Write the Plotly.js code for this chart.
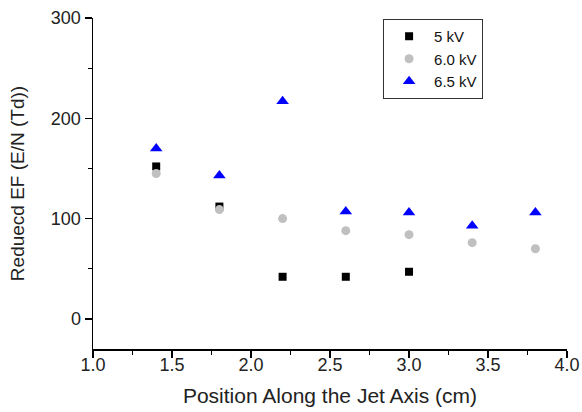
<!DOCTYPE html>
<html><head><meta charset="utf-8">
<script src="https://cdn.plot.ly/plotly-3.0.1.min.js"></script>
<style>html,body{margin:0;padding:0;background:#fff}#chart{width:582px;height:412px}</style>
</head><body><div id="chart"></div>
<script>
var positions = [1.4, 1.8, 2.2, 2.6, 3.0, 3.4, 3.8];
var x5kV = [1.4, 1.8, 2.2, 2.6, 3.0];
var ef5kV = [152, 112, 42, 42, 47];
var ef60kV = [145, 109, 100, 88, 84, 76, 70];
var ef65kV = [170, 143, 217, 107, 106, 93, 106];
var seriesNames = ['5 kV', '6.0 kV', '6.5 kV'];

var font = 'Liberation Sans, Arial, sans-serif';
var traces = [
  {x: x5kV, y: ef5kV, name: seriesNames[0], type: 'scatter', mode: 'markers',
   marker: {symbol: 'square', size: 8, color: '#000000'}},
  {x: positions, y: ef60kV, name: seriesNames[1], type: 'scatter', mode: 'markers',
   marker: {symbol: 'circle', size: 9, color: '#c0c0c0'}},
  {x: positions, y: ef65kV, name: seriesNames[2], type: 'scatter', mode: 'markers',
   marker: {symbol: 'triangle-up', size: 11, color: '#0000ff'}}
];
var pad = '\u00a0'.repeat(12);
var layout = {
  width: 582, height: 412,
  margin: {l: 93, r: 15, t: 18, b: 63},
  paper_bgcolor: '#fff', plot_bgcolor: '#fff',
  font: {family: font, size: 18, color: '#222'},
  showlegend: true,
  legend: {x: 0.612, y: 0.997, xanchor: 'left', yanchor: 'top',
    bordercolor: '#333', borderwidth: 1, bgcolor: '#fff', itemwidth: 40,
    font: {family: font, size: 15, color: '#111'}, tracegroupgap: 0},
  xaxis: {range: [1, 4], dtick: 0.5, tick0: 1, tickformat: '.1f',
    showgrid: false, zeroline: false, showline: true, linecolor: '#000', linewidth: 1.5,
    ticks: 'outside', ticklen: 7, tickcolor: '#000', tickwidth: 1.5, ticklabelstandoff: -8,
    minor: {dtick: 0.25, ticks: 'outside', ticklen: 4, tickcolor: '#000', tickwidth: 1},
    tickfont: {family: font, size: 18, color: '#222'},
    title: {text: 'Position Along the Jet Axis (cm)', font: {family: font, size: 21, color: '#222'}, standoff: 14}},
  yaxis: {range: [-30, 300], dtick: 100, tick0: 0,
    showgrid: false, zeroline: false, showline: true, linecolor: '#000', linewidth: 1.5,
    ticks: 'outside', ticklen: 7, tickcolor: '#000', tickwidth: 1.5,
    minor: {dtick: 50, ticks: 'outside', ticklen: 4, tickcolor: '#000', tickwidth: 1},
    tickfont: {family: font, size: 18, color: '#222'},
    title: {text: 'Reduecd EF (E/N (Td))' + pad, font: {family: font, size: 19, color: '#222'}, standoff: 21}}
};
Plotly.newPlot('chart', traces, layout, {staticPlot: true, displayModeBar: false});
</script></body></html>
